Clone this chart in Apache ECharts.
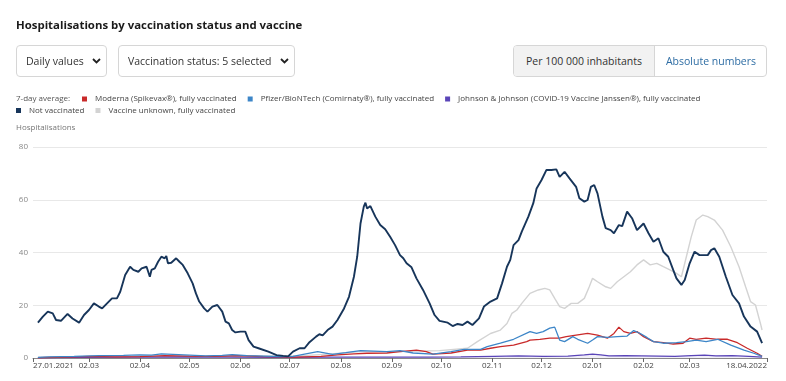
<!DOCTYPE html>
<html>
<head>
<meta charset="utf-8">
<script src="https://cdn.jsdelivr.net/npm/echarts@6/dist/echarts.min.js"></script>
<style>
html,body{margin:0;padding:0;background:#fff;width:786px;height:381px;overflow:hidden;}
#chart{position:absolute;left:0;top:0;width:786px;height:381px;}
.ui{position:absolute;font-family:'Open Sans',sans-serif;color:#222;box-sizing:border-box;}
.title{left:16px;top:17px;font-size:11.4px;font-weight:bold;color:#1a1a1a;white-space:nowrap;}
.dd{top:45px;height:32px;border:1px solid #d6d6d6;border-radius:4px;font-size:10.5px;color:#333;line-height:30px;white-space:nowrap;}
.dd svg{position:absolute;top:12px;}
.tog{left:513px;top:45px;width:254px;height:32px;border:1px solid #d6d6d6;border-radius:4px;overflow:hidden;font-size:10.5px;line-height:30px;white-space:nowrap;}
.tog .a{position:absolute;left:0;top:0;width:140px;height:30px;background:#f2f2f2;border-right:1px solid #d6d6d6;text-align:center;color:#333;}
.tog .b{position:absolute;left:141px;top:0;width:112px;height:30px;text-align:center;color:#2e6da4;}
</style>
</head>
<body>
<div id="chart"></div>
<div class="ui title">Hospitalisations by vaccination status and vaccine</div>
<div class="ui dd" style="left:16px;width:91px;padding-left:9px;">Daily values<svg style="left:75px" width="9" height="6" viewBox="0 0 9 6"><polyline points="1,1 4.5,4.5 8,1" fill="none" stroke="#222" stroke-width="1.8"/></svg></div>
<div class="ui dd" style="left:118px;width:177px;padding-left:9px;">Vaccination status: 5 selected<svg style="left:161px" width="9" height="6" viewBox="0 0 9 6"><polyline points="1,1 4.5,4.5 8,1" fill="none" stroke="#222" stroke-width="1.8"/></svg></div>
<div class="ui tog"><div class="a">Per 100 000 inhabitants</div><div class="b">Absolute numbers</div></div>
<script>
// x positions are days since 27.01.2021
const tickDays = [0, 34, 65, 95, 126, 156, 187, 218, 248, 279, 309, 340, 371, 399, 446];
const tickLabels = ['27.01.2021','02.03','02.04','02.05','02.06','02.07','02.08','02.09','02.10','02.11','02.12','02.01','02.02','02.03','18.04.2022'];
const yTicks = [0, 20, 40, 60, 80];

const notVaccDays = [3,6,9,12,14,17,21,24,28,31,34,37,40,42,45,48,51,53,56,59,61,64,66,69,71,72,74,76,78,80,81,82,84,87,89,91,94,97,99,101,104,106,109,112,113,115,117,119,121,123,126,129,131,134,137,143,148,152,155,158,162,165,168,172,174,176,179,182,185,189,192,195,197,199,201,202,203,205,208,211,214,217,220,223,225,227,230,233,237,241,244,247,252,255,258,261,264,267,271,274,278,282,285,288,290,292,295,297,301,304,306,309,312,315,318,320,323,326,330,332,335,337,339,341,343,346,348,351,353,356,358,361,364,367,371,374,377,380,383,386,389,391,394,396,399,402,405,410,412,414,417,421,425,429,432,436,440,443];
const notVaccValues = [13.4,15.7,17.6,16.9,14.4,14.1,16.7,15.0,13.4,16.3,18.2,20.7,19.5,18.8,20.7,22.6,22.6,25.1,31.5,34.6,33.4,32.7,34.0,34.6,30.8,33.4,34.0,36.5,38.4,37.8,38.7,35.9,36.1,37.8,36.5,35.3,32.1,28.3,24.5,21.4,18.8,17.6,19.5,20.1,20.7,17.6,13.8,13.1,10.6,9.7,10.0,10.0,6.8,4.3,3.7,2.4,1.1,0.8,0.6,2.4,3.7,3.7,6.0,8.1,9.0,8.6,10.6,11.9,14.4,18.8,23.2,30.8,38.4,51.0,57.4,58.9,56.7,57.6,53.6,50.4,48.8,46.0,42.8,39.0,37.8,35.9,34.4,30.2,25.8,20.7,16.3,14.1,13.4,12.1,12.9,12.5,13.8,12.5,15.0,19.5,21.4,22.6,28.3,34.6,37.2,42.8,44.7,47.9,53.6,58.7,64.3,67.5,71.3,71.3,71.5,68.7,70.6,68.1,64.9,60.6,59.3,59.9,64.9,65.6,62.4,53.6,49.2,48.5,47.3,50.4,50.0,55.5,53.0,48.5,51.0,47.3,44.1,45.4,40.3,38.4,33.4,30.2,27.7,29.6,35.9,40.3,39.0,39.0,40.9,41.6,38.4,30.8,23.9,20.7,15.7,11.9,10.0,5.6];

const unknownDays = [3,40,100,140,162,181,199,223,247,264,270,278,284,288,291,294,297,302,307,311,314,317,320,323,327,331,335,338,340,343,348,351,355,359,363,367,371,375,379,383,387,391,394,397,400,403,407,410,414,419,424,429,433,436,439,442,443];
const unknownValues = [0.2,0.3,0.5,0.8,0.8,1.5,2.4,2.4,2.8,3.7,6.2,9.3,10.6,13.1,16.9,18.2,20.7,24.5,25.8,26.4,25.8,22.6,19.5,18.8,20.7,20.7,22.6,27.0,30.2,28.9,27.0,26.4,28.9,30.8,32.7,35.3,37.2,35.3,35.9,34.6,33.4,32.1,30.8,38.4,46.0,52.3,54.2,53.6,52.3,48.5,42.2,34.6,27.0,21.4,20.1,13.1,10.6];

const pfizerDays = [3,10,25,40,55,65,72,78,85,95,105,115,121,130,140,150,158,165,173,182,190,199,207,215,223,231,243,254,262,272,276,284,292,302,306,310,314,317,320,323,328,331,337,340,343,349,355,361,365,369,373,377,383,391,397,403,409,416,424,432,438,443];
const pfizerValues = [0.2,0.4,0.6,0.9,1.0,1.2,1.1,1.6,1.4,1.1,0.8,1.0,1.3,0.9,0.7,0.5,0.6,1.5,2.4,1.4,2.0,2.8,2.6,2.4,2.8,1.9,1.5,2.4,3.3,3.3,4.3,5.6,7.1,10.0,9.3,10.0,11.3,11.7,6.8,6.2,8.1,7.1,5.6,6.8,8.1,7.8,8.1,8.3,10.4,9.3,7.8,6.2,5.6,5.8,6.2,6.8,6.2,7.1,4.9,3.0,1.8,0.6];

const modernaDays = [3,20,35,50,65,80,95,110,125,140,160,175,185,195,203,215,223,233,239,243,254,264,272,278,284,292,300,302,308,314,320,324,330,337,343,349,353,356,359,363,367,371,377,383,389,395,399,403,409,416,422,428,434,440,443];
const modernaValues = [0.1,0.3,0.6,0.4,0.5,0.9,0.7,0.6,0.9,0.5,0.3,0.6,1.2,1.6,1.8,1.9,2.4,3.0,2.4,1.5,1.9,3.0,3.0,3.7,4.3,4.9,6.2,6.8,7.1,7.5,7.5,8.1,8.7,9.3,8.7,7.5,9.3,11.7,10.0,9.3,10.0,8.1,6.2,5.8,5.3,5.6,7.5,7.1,7.5,7.1,7.1,5.8,3.7,1.8,0.6];

const jjDays = [3,30,60,90,120,150,180,210,240,260,280,295,310,325,335,340,345,350,360,370,380,390,400,408,415,425,435,443];
const jjValues = [0.1,0.2,0.3,0.4,0.3,0.2,0.3,0.3,0.3,0.4,0.6,0.8,0.6,0.7,1.2,1.5,1.2,0.8,0.9,0.8,0.7,0.6,0.9,1.1,0.8,0.9,0.6,0.3];

function zip(d, v) { return d.map((x, i) => [x, v[i]]); }

const FONT = "'Open Sans', sans-serif";
const chart = echarts.init(document.getElementById('chart'), null, {renderer: 'canvas'});
const lineSeries = (name, color, width, days, vals, extra) => Object.assign({
  name: name, type: 'line', data: zip(days, vals), showSymbol: false, symbol: 'none',
  lineStyle: {color: color, width: width}, itemStyle: {color: color}, smooth: false
}, extra || {});

chart.setOption({
  animation: false,
  textStyle: {fontFamily: FONT},
  grid: {left: 33, right: 19, top: 147, bottom: 23, containLabel: false, outerBoundsMode: 'none'},
  graphic: [
    {type: 'text', left: 16, top: 94.5, style: {text: '7-day average:', fontSize: 8, fill: '#555', fontFamily: FONT}},
    {type: 'text', left: 16, top: 123.5, style: {text: 'Hospitalisations', fontSize: 8, fill: '#777', fontFamily: FONT}}
  ],
  legend: [
    {left: 82, top: 95, padding: 0, icon: 'rect', itemWidth: 5, itemHeight: 5, itemGap: 11,
     textStyle: {fontSize: 8, color: '#444', padding: [0, 0, 0, 3], fontFamily: FONT},
     data: ['Moderna (Spikevax®), fully vaccinated', 'Pfizer/BioNTech (Comirnaty®), fully vaccinated', 'Johnson & Johnson (COVID-19 Vaccine Janssen®), fully vaccinated']},
    {left: 16, top: 106.5, padding: 0, icon: 'rect', itemWidth: 5, itemHeight: 5, itemGap: 11,
     textStyle: {fontSize: 8, color: '#444', padding: [0, 0, 0, 3], fontFamily: FONT},
     data: ['Not vaccinated', 'Vaccine unknown, fully vaccinated']}
  ],
  xAxis: {
    type: 'value', min: 0, max: 446,
    splitLine: {show: false},
    axisLine: {show: true, lineStyle: {color: '#888', width: 1}},
    axisTick: {show: true, customValues: tickDays, length: 4, lineStyle: {color: '#666'}},
    axisLabel: {
      customValues: tickDays, fontSize: 8, color: '#444', margin: 4,
      alignMinLabel: 'left', alignMaxLabel: 'right',
      formatter: v => tickLabels[tickDays.indexOf(v)]
    }
  },
  yAxis: {
    type: 'value', min: 0, max: 80, interval: 20,
    axisLine: {show: false}, axisTick: {show: false},
    splitLine: {lineStyle: {color: '#e8e8e8', width: 1}},
    axisLabel: {fontSize: 8, color: '#888', margin: 5,
      formatter: v => (yTicks.indexOf(v) >= 0 ? String(v) : '')}
  },
  series: [
    lineSeries('Vaccine unknown, fully vaccinated', '#d3d3d3', 1.4, unknownDays, unknownValues),
    lineSeries('Johnson & Johnson (COVID-19 Vaccine Janssen®), fully vaccinated', '#5a45b8', 1.3, jjDays, jjValues, {areaStyle: {color: 'rgba(140,125,200,0.18)'}}),
    lineSeries('Moderna (Spikevax®), fully vaccinated', '#c92a2a', 1.3, modernaDays, modernaValues),
    lineSeries('Pfizer/BioNTech (Comirnaty®), fully vaccinated', '#3d86c8', 1.3, pfizerDays, pfizerValues),
    lineSeries('Not vaccinated', '#17355a', 1.9, notVaccDays, notVaccValues)
  ]
});
</script>
</body>
</html>
